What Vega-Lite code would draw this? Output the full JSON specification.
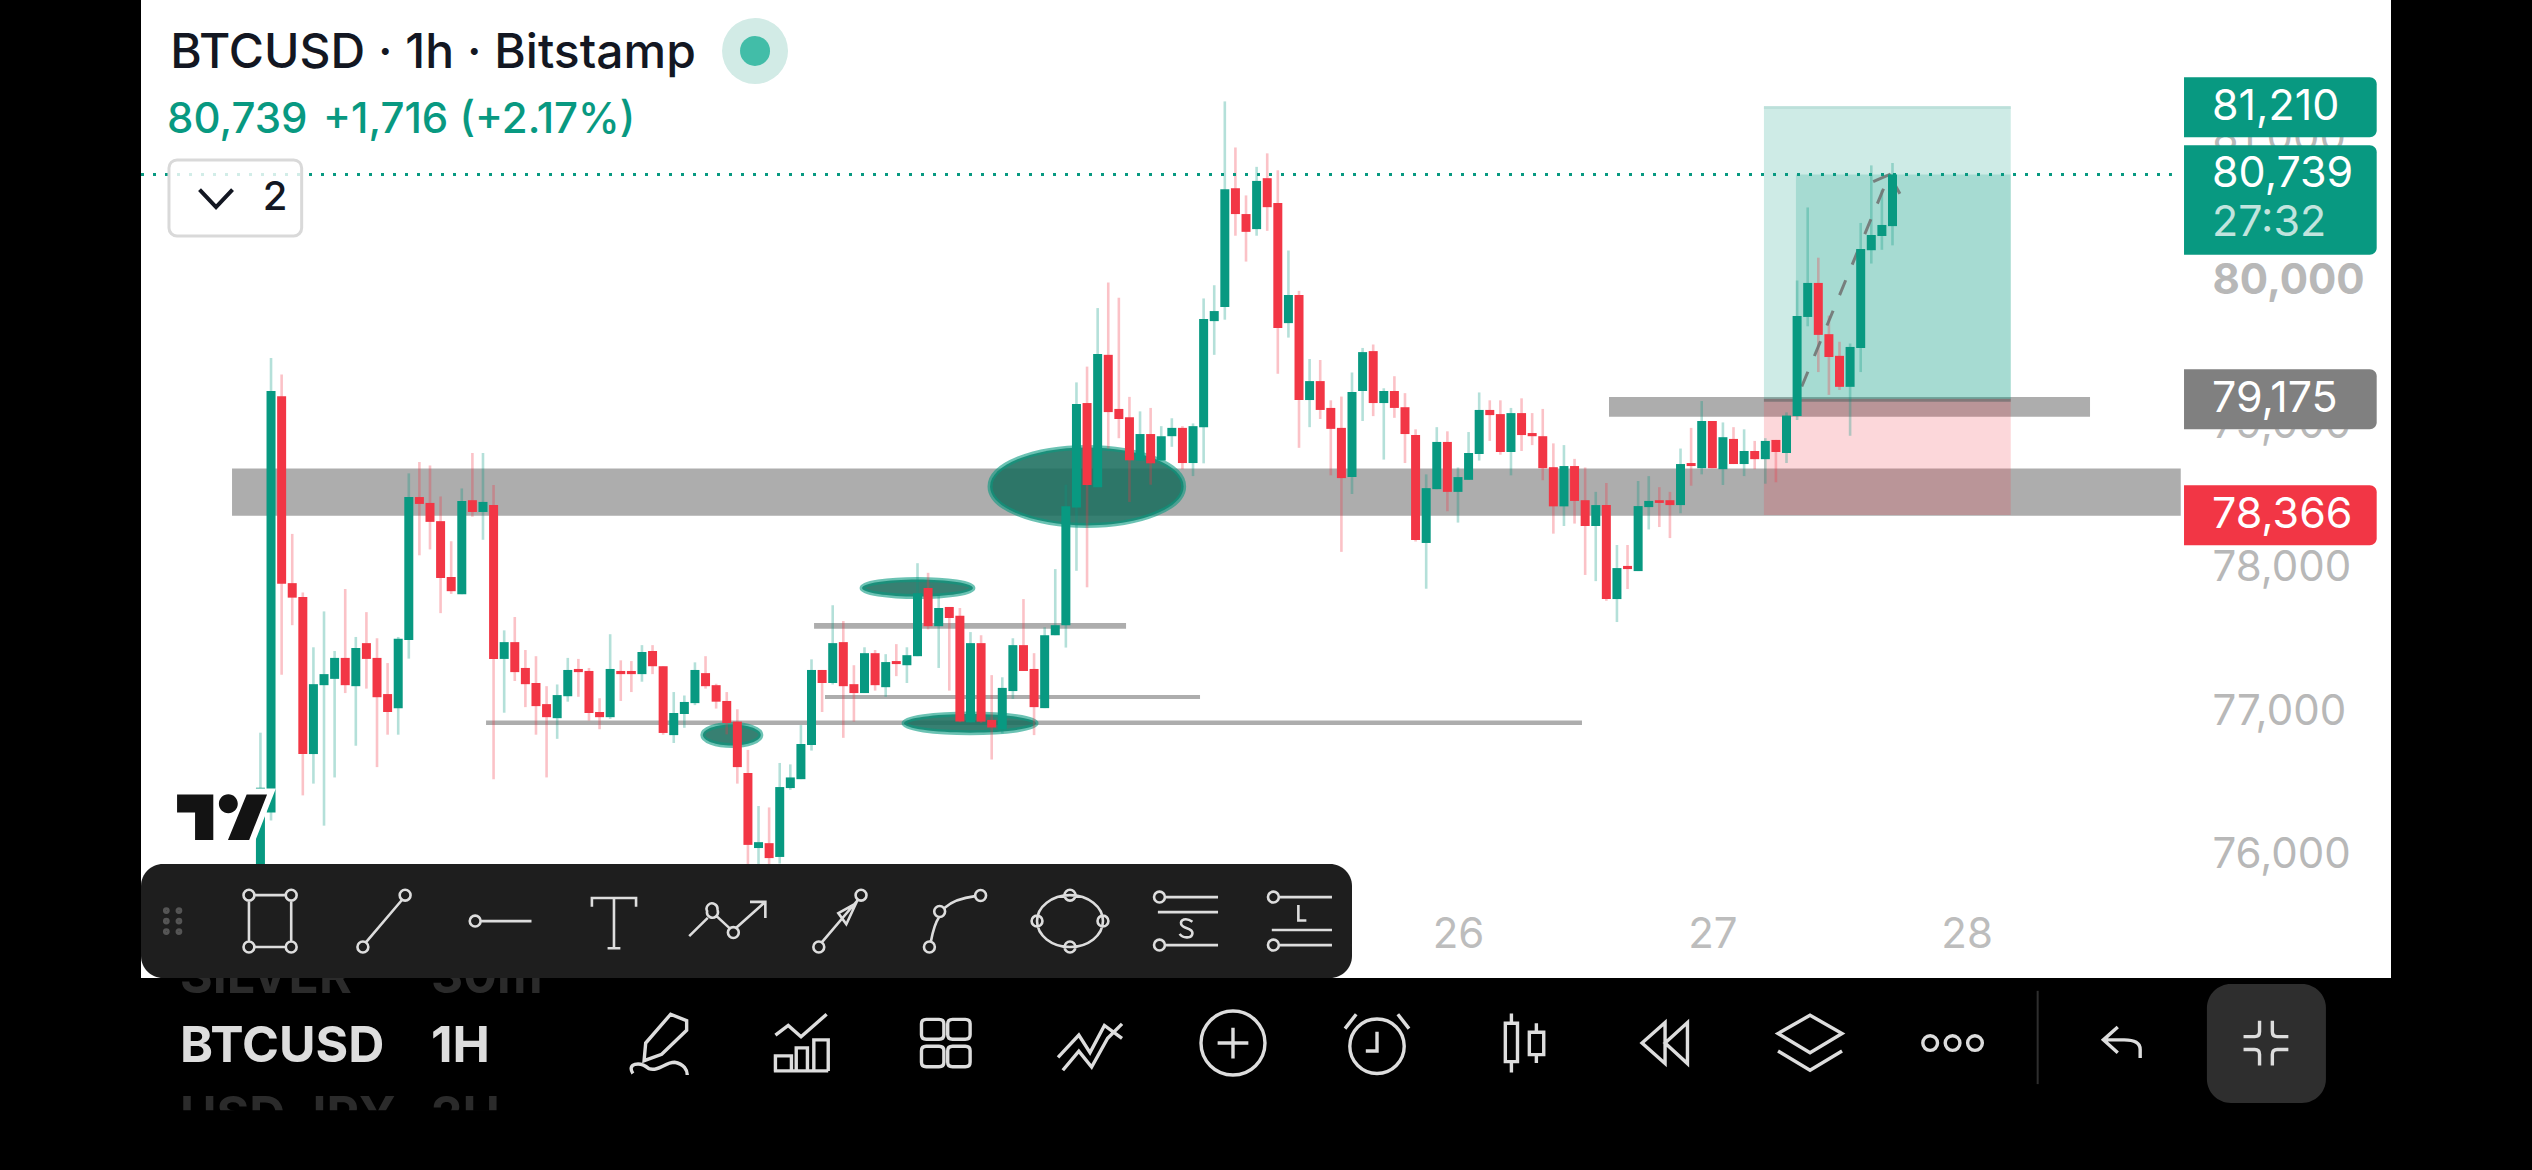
{"$schema":"https://vega.github.io/schema/vega-lite/v6.json","width":2250,"height":978,"autosize":{"type":"none"},"padding":{"left":141,"right":141,"top":0,"bottom":192},"background":"#000000","view":{"fill":"#ffffff","stroke":null},
"config":{"font":"Inter"},
"datasets":{
"candles":[
{"i":0,"o":75505,"h":76849,"l":75400,"c":76465},{"i":1,"o":76292,"h":79460,"l":76237,"c":79230},{"i":2,"o":79194,"h":79345,"l":77252,"c":77886},{"i":3,"o":77891,"h":78234,"l":77598,"c":77790},{"i":4,"o":77795,"h":77826,"l":76412,"c":76700},{"i":5,"o":76700,"h":77444,"l":76494,"c":77187},{"i":6,"o":77180,"h":77694,"l":76201,"c":77257},{"i":7,"o":77224,"h":77418,"l":76537,"c":77370},{"i":8,"o":77370,"h":77850,"l":77125,"c":77180},{"i":9,"o":77173,"h":77516,"l":76758,"c":77439},
{"i":10,"o":77473,"h":77689,"l":77156,"c":77363},{"i":11,"o":77370,"h":77507,"l":76609,"c":77096},{"i":12,"o":77118,"h":77334,"l":76835,"c":76993},{"i":13,"o":77020,"h":77516,"l":76835,"c":77504},{"i":14,"o":77495,"h":78656,"l":77365,"c":78491},{"i":15,"o":78491,"h":78735,"l":78085,"c":78443},{"i":16,"o":78450,"h":78711,"l":78126,"c":78318},{"i":17,"o":78323,"h":78495,"l":77682,"c":77927},{"i":18,"o":77934,"h":78183,"l":77816,"c":77835},{"i":19,"o":77814,"h":78551,"l":77814,"c":78464},
{"i":20,"o":78469,"h":78798,"l":78354,"c":78387},{"i":21,"o":78387,"h":78798,"l":78193,"c":78457},{"i":22,"o":78435,"h":78575,"l":76525,"c":77363},{"i":23,"o":77363,"h":77562,"l":76988,"c":77480},{"i":24,"o":77480,"h":77655,"l":77209,"c":77271},{"i":25,"o":77300,"h":77425,"l":77027,"c":77187},{"i":26,"o":77195,"h":77382,"l":76835,"c":77034},{"i":27,"o":77048,"h":77173,"l":76537,"c":76957},{"i":28,"o":76950,"h":77185,"l":76806,"c":77111},{"i":29,"o":77103,"h":77370,"l":77065,"c":77286},
{"i":30,"o":77293,"h":77363,"l":77099,"c":77271},{"i":31,"o":77279,"h":77300,"l":76933,"c":76986},{"i":32,"o":76993,"h":77089,"l":76873,"c":76957},{"i":33,"o":76957,"h":77535,"l":76945,"c":77293},{"i":34,"o":77279,"h":77353,"l":77070,"c":77257},{"i":35,"o":77279,"h":77348,"l":77132,"c":77257},{"i":36,"o":77257,"h":77459,"l":77204,"c":77411},{"i":37,"o":77418,"h":77459,"l":77257,"c":77312},{"i":38,"o":77312,"h":77312,"l":76835,"c":76847},{"i":39,"o":76832,"h":77132,"l":76777,"c":76986},
{"i":40,"o":76979,"h":77108,"l":76883,"c":77063},{"i":41,"o":77055,"h":77339,"l":77041,"c":77286},{"i":42,"o":77264,"h":77382,"l":77156,"c":77173},{"i":43,"o":77180,"h":77190,"l":77017,"c":77065},{"i":44,"o":77070,"h":77132,"l":76837,"c":76916},{"i":45,"o":76926,"h":77012,"l":76494,"c":76609},{"i":46,"o":76568,"h":76729,"l":75745,"c":76067},{"i":47,"o":76045,"h":76338,"l":75841,"c":76086},{"i":48,"o":76079,"h":76328,"l":75841,"c":75975},{"i":49,"o":75983,"h":76638,"l":75937,"c":76470},
{"i":50,"o":76463,"h":76628,"l":76451,"c":76537},{"i":51,"o":76525,"h":76902,"l":76525,"c":76770},{"i":52,"o":76763,"h":77360,"l":76724,"c":77286},{"i":53,"o":77286,"h":77286,"l":76993,"c":77195},{"i":54,"o":77195,"h":77737,"l":77185,"c":77473},{"i":55,"o":77480,"h":77627,"l":76813,"c":77173},{"i":56,"o":77187,"h":77319,"l":76926,"c":77125},{"i":57,"o":77125,"h":77444,"l":77125,"c":77403},{"i":58,"o":77403,"h":77425,"l":77142,"c":77180},{"i":59,"o":77166,"h":77396,"l":77099,"c":77341},
{"i":60,"o":77348,"h":77466,"l":77243,"c":77327},{"i":61,"o":77319,"h":77444,"l":77195,"c":77389},{"i":62,"o":77382,"h":78030,"l":77382,"c":77821},{"i":63,"o":77857,"h":77963,"l":77569,"c":77591},{"i":64,"o":77591,"h":77809,"l":77300,"c":77718},{"i":65,"o":77725,"h":77725,"l":77142,"c":77648},{"i":66,"o":77663,"h":77718,"l":76921,"c":76926},{"i":67,"o":76921,"h":77550,"l":76916,"c":77473},{"i":68,"o":77473,"h":77528,"l":76916,"c":76926},{"i":69,"o":76938,"h":77250,"l":76662,"c":76885},
{"i":70,"o":76873,"h":77235,"l":76844,"c":77161},{"i":71,"o":77139,"h":77507,"l":77084,"c":77459},{"i":72,"o":77459,"h":77780,"l":77279,"c":77279},{"i":73,"o":77293,"h":77403,"l":76832,"c":77027},{"i":74,"o":77020,"h":77583,"l":77020,"c":77528},{"i":75,"o":77528,"h":77989,"l":77528,"c":77598},{"i":76,"o":77598,"h":78577,"l":77442,"c":78426},{"i":77,"o":78419,"h":79290,"l":77977,"c":79139},{"i":78,"o":79146,"h":79400,"l":77862,"c":78575},{"i":79,"o":78560,"h":79808,"l":78560,"c":79487},
{"i":80,"o":79482,"h":79986,"l":78829,"c":79083},{"i":81,"o":79105,"h":79880,"l":78901,"c":79035},{"i":82,"o":79047,"h":79189,"l":78457,"c":78747},{"i":83,"o":78745,"h":79088,"l":78745,"c":78930},{"i":84,"o":78930,"h":79112,"l":78577,"c":78726},{"i":85,"o":78745,"h":78985,"l":78745,"c":78915},{"i":86,"o":78915,"h":79040,"l":78841,"c":78973},{"i":87,"o":78973,"h":78985,"l":78685,"c":78728},{"i":88,"o":78728,"h":79004,"l":78637,"c":78985},{"i":89,"o":78978,"h":79875,"l":78726,"c":79731},
{"i":90,"o":79717,"h":79967,"l":79482,"c":79787},{"i":91,"o":79815,"h":81248,"l":79727,"c":80636},{"i":92,"o":80643,"h":80927,"l":80312,"c":80463},{"i":93,"o":80463,"h":80593,"l":80132,"c":80339},{"i":94,"o":80358,"h":80792,"l":80312,"c":80694},{"i":95,"o":80713,"h":80886,"l":80346,"c":80511},{"i":96,"o":80540,"h":80768,"l":79350,"c":79669},{"i":97,"o":79703,"h":80209,"l":79602,"c":79899},{"i":98,"o":79899,"h":79928,"l":78834,"c":79167},{"i":99,"o":79167,"h":79453,"l":78978,"c":79299},
{"i":100,"o":79299,"h":79446,"l":79035,"c":79098},{"i":101,"o":79112,"h":79165,"l":78642,"c":78966},{"i":102,"o":78973,"h":79191,"l":78109,"c":78623},{"i":103,"o":78630,"h":79359,"l":78512,"c":79223},{"i":104,"o":79230,"h":79530,"l":79021,"c":79501},{"i":105,"o":79508,"h":79554,"l":79055,"c":79146},{"i":106,"o":79146,"h":79249,"l":78752,"c":79230},{"i":107,"o":79230,"h":79333,"l":79043,"c":79112},{"i":108,"o":79117,"h":79215,"l":78728,"c":78930},{"i":109,"o":78923,"h":78963,"l":78181,"c":78191},
{"i":110,"o":78171,"h":78649,"l":77852,"c":78553},{"i":111,"o":78546,"h":78978,"l":78546,"c":78875},{"i":112,"o":78875,"h":78949,"l":78392,"c":78527},{"i":113,"o":78527,"h":78697,"l":78313,"c":78630},{"i":114,"o":78611,"h":78944,"l":78611,"c":78798},{"i":115,"o":78791,"h":79220,"l":78745,"c":79098},{"i":116,"o":79098,"h":79165,"l":78882,"c":79062},{"i":117,"o":79069,"h":79165,"l":78786,"c":78805},{"i":118,"o":78805,"h":79112,"l":78642,"c":79076},{"i":119,"o":79076,"h":79179,"l":78812,"c":78923},
{"i":120,"o":78937,"h":79076,"l":78853,"c":78915},{"i":121,"o":78915,"h":79105,"l":78608,"c":78692},{"i":122,"o":78699,"h":78865,"l":78236,"c":78426},{"i":123,"o":78426,"h":78853,"l":78289,"c":78707},{"i":124,"o":78707,"h":78757,"l":78306,"c":78464},{"i":125,"o":78469,"h":78697,"l":77948,"c":78289},{"i":126,"o":78289,"h":78527,"l":77905,"c":78435},{"i":127,"o":78435,"h":78589,"l":77768,"c":77780},{"i":128,"o":77780,"h":78157,"l":77620,"c":77996},{"i":129,"o":78011,"h":78157,"l":77850,"c":77989},
{"i":130,"o":77975,"h":78603,"l":77975,"c":78428},{"i":131,"o":78421,"h":78637,"l":78265,"c":78464},{"i":132,"o":78469,"h":78560,"l":78282,"c":78450},{"i":133,"o":78469,"h":78527,"l":78205,"c":78435},{"i":134,"o":78435,"h":78829,"l":78378,"c":78721},{"i":135,"o":78728,"h":78973,"l":78570,"c":78707},{"i":136,"o":78692,"h":79160,"l":78649,"c":79021},{"i":137,"o":79021,"h":79021,"l":78692,"c":78692},{"i":138,"o":78685,"h":79011,"l":78575,"c":78908},{"i":139,"o":78896,"h":78978,"l":78721,"c":78721},
{"i":140,"o":78721,"h":78963,"l":78637,"c":78812},{"i":141,"o":78812,"h":78882,"l":78685,"c":78755},{"i":142,"o":78755,"h":78901,"l":78584,"c":78882},{"i":143,"o":78889,"h":78889,"l":78594,"c":78805},{"i":144,"o":78798,"h":79081,"l":78728,"c":79059},{"i":145,"o":79055,"h":80000,"l":79028,"c":79753},{"i":146,"o":79746,"h":80509,"l":79681,"c":79983},{"i":147,"o":79983,"h":80159,"l":79362,"c":79621},{"i":148,"o":79626,"h":79755,"l":79203,"c":79467},{"i":149,"o":79475,"h":79573,"l":79237,"c":79259},
{"i":150,"o":79259,"h":79561,"l":78918,"c":79537},{"i":151,"o":79530,"h":80401,"l":79362,"c":80219},{"i":152,"o":80211,"h":80802,"l":80118,"c":80317},{"i":153,"o":80310,"h":80629,"l":80214,"c":80387},{"i":154,"o":80379,"h":80819,"l":80245,"c":80739}],
"bands":[{"a":-2.68,"b":181.2,"t":78690,"u":78360},{"a":127.25,"b":172.64,"t":79188,"u":79050},{"a":21.29,"b":124.7,"t":76934,"u":76903},{"a":53.27,"b":88.66,"t":77111,"u":77083},{"a":52.24,"b":81.68,"t":77613,"u":77574}],
"trade":[{"k":"target","a":141.87,"b":165.16,"t":81210,"u":79175},{"k":"target","a":144.89,"b":165.16,"t":80739,"u":79175},{"k":"stop","a":141.87,"b":165.16,"t":79175,"u":78366}],
"levels":[{"k":"entry","a":141.87,"b":165.16,"p":79165},{"k":"top","a":141.87,"b":165.16,"p":81205}],
"path":[{"i":145.44,"p":79261},{"i":153.7,"p":80737}],
"barb":[{"i":152.18,"p":80689},{"i":153.7,"p":80737},{"i":154.7,"p":80605}],
"last":[{"a":-11.27,"b":180.37,"p":80739}],
"tags":[{"k":"tp","a":181.51,"b":199.69,"t":81416,"u":80998},{"k":"tp","a":181.51,"b":199.69,"t":80942,"u":80180},{"k":"en","a":181.51,"b":199.69,"t":79381,"u":78963},{"k":"sl","a":181.51,"b":199.69,"t":78573,"u":78155}],
"tagtext":[{"s":"81,210","i":184.15,"p":81210,"k":"w"},{"s":"80,739","i":184.15,"p":80739,"k":"w"},{"s":"27:32","i":184.15,"p":80400,"k":"m"},{"s":"79,175","i":184.15,"p":79175,"k":"w"},{"s":"78,366","i":184.15,"p":78366,"k":"w"}]
},
"layer":[
{"data":{"name":"bands"},"mark":{"type":"rect","fill":"#adadad"},"encoding":{"x":{"field":"a","type":"quantitative","scale":{"domain":[-11.27,201.04],"nice":false,"zero":false,"padding":0},"axis":{"orient":"bottom","offset":-22,"values":[113,137,161],"labelExpr":"datum.value==113?'26':datum.value==137?'27':'28'","grid":false,"ticks":false,"domain":false,"title":null,"labelFont":"Inter","labelFontSize":42,"labelColor":"#bdbdbd","labelPadding":0,"labelBaseline":"bottom"}},"x2":{"field":"b"},"y":{"field":"t","type":"quantitative","scale":{"domain":[75139.4,81954.7],"nice":false,"zero":false,"padding":0},"axis":{"orient":"right","offset":-179,"values":[76000,77000,78000,79000,80000,81000],"format":",d","grid":false,"ticks":false,"domain":false,"title":null,"labelFont":"Inter","labelFontSize":42,"labelColor":"#b8b8b8","labelPadding":0,"labelAlign":"left","labelOffset":0,"labelFontWeight":{"condition":{"test":"datum.value==80000","value":"bold"},"value":"normal"}}},"y2":{"field":"u"}}},
{"data":{"name":"trade"},"mark":{"type":"rect","opacity":0.2},"encoding":{"x":{"field":"a","type":"quantitative"},"x2":{"field":"b"},"y":{"field":"t","type":"quantitative"},"y2":{"field":"u"},"color":{"field":"k","type":"nominal","scale":{"domain":["target","stop"],"range":["#089981","#F23645"]},"legend":null}}},
{"data":{"name":"levels"},"mark":{"type":"rule","strokeWidth":3,"opacity":0.75},"encoding":{"x":{"field":"a","type":"quantitative"},"x2":{"field":"b"},"y":{"field":"p","type":"quantitative"},"color":{"field":"k","type":"nominal","scale":{"domain":["entry","top"],"range":["#6f6f6f","#b6dcd5"]},"legend":null}}},
{"data":{"values":[{"i":77.98,"p":78565}]},"mark":{"type":"point","shape":"M-1,0A1,0.403 0 1,1 1,0A1,0.403 0 1,1 -1,0Z","size":37481,"filled":true,"fill":"#1b6e5e","fillOpacity":0.88,"stroke":"#089981","strokeOpacity":0.6,"strokeWidth":5},"encoding":{"x":{"field":"i","type":"quantitative"},"y":{"field":"p","type":"quantitative"}}},
{"data":{"values":[{"i":62.0,"p":77857}]},"mark":{"type":"point","shape":"M-1,0A1,0.155 0 1,1 1,0A1,0.155 0 1,1 -1,0Z","size":12277,"filled":true,"fill":"#1b6e5e","fillOpacity":0.88,"stroke":"#089981","strokeOpacity":0.6,"strokeWidth":5},"encoding":{"x":{"field":"i","type":"quantitative"},"y":{"field":"p","type":"quantitative"}}},
{"data":{"values":[{"i":66.96,"p":76914}]},"mark":{"type":"point","shape":"M-1,0A1,0.141 0 1,1 1,0A1,0.141 0 1,1 -1,0Z","size":17424,"filled":true,"fill":"#1b6e5e","fillOpacity":0.88,"stroke":"#089981","strokeOpacity":0.6,"strokeWidth":5},"encoding":{"x":{"field":"i","type":"quantitative"},"y":{"field":"p","type":"quantitative"}}},
{"data":{"values":[{"i":44.48,"p":76833}]},"mark":{"type":"point","shape":"M-1,0A1,0.362 0 1,1 1,0A1,0.362 0 1,1 -1,0Z","size":3364,"filled":true,"fill":"#1b6e5e","fillOpacity":0.88,"stroke":"#089981","strokeOpacity":0.6,"strokeWidth":5},"encoding":{"x":{"field":"i","type":"quantitative"},"y":{"field":"p","type":"quantitative"}}},
{"data":{"name":"candles"},"mark":{"type":"rule","strokeWidth":2.6,"opacity":0.3},"encoding":{"x":{"field":"i","type":"quantitative"},"y":{"field":"l","type":"quantitative"},"y2":{"field":"h"},"color":{"condition":{"test":"datum.c>=datum.o","value":"#089981"},"value":"#F23645"}}},
{"data":{"name":"path"},"mark":{"type":"line","stroke":"#6f6f6f","strokeWidth":3,"strokeDash":[16,17],"opacity":0.85},"encoding":{"x":{"field":"i","type":"quantitative"},"y":{"field":"p","type":"quantitative"}}},
{"data":{"name":"barb"},"mark":{"type":"line","stroke":"#6f6f6f","strokeWidth":3,"opacity":0.85},"encoding":{"x":{"field":"i","type":"quantitative","sort":null},"y":{"field":"p","type":"quantitative"}}},
{"data":{"name":"last"},"mark":{"type":"rule","stroke":"#089981","strokeWidth":3,"strokeDash":[3,9]},"encoding":{"x":{"field":"a","type":"quantitative"},"x2":{"field":"b"},"y":{"field":"p","type":"quantitative"}}},
{"data":{"name":"candles"},"mark":{"type":"bar","width":9},"encoding":{"x":{"field":"i","type":"quantitative"},"y":{"field":"o","type":"quantitative"},"y2":{"field":"c"},"color":{"condition":{"test":"datum.c>=datum.o","value":"#089981"},"value":"#F23645"}}},
{"data":{"name":"tags"},"mark":{"type":"rect","cornerRadiusTopRight":7,"cornerRadiusBottomRight":7},"encoding":{"x":{"field":"a","type":"quantitative"},"x2":{"field":"b"},"y":{"field":"t","type":"quantitative"},"y2":{"field":"u"},"color":{"field":"k","type":"nominal","scale":{"domain":["tp","en","sl"],"range":["#089981","#808080","#F23645"]},"legend":null}}},
{"data":{"name":"tagtext"},"mark":{"type":"text","align":"left","baseline":"middle","font":"Inter","fontSize":43,"dy":0},"encoding":{"x":{"field":"i","type":"quantitative"},"y":{"field":"p","type":"quantitative"},"text":{"field":"s"},"color":{"field":"k","type":"nominal","scale":{"domain":["w","m"],"range":["#ffffff","#c1e4de"]},"legend":null}}},
{"data":{"values":[{"i":-3.62,"p":76260}]},"mark":{"type":"point","shape":"M-1,-0.505L-0.195,-0.505L-0.195,0.505L-0.6,0.505L-0.6,-0.107L-1,-0.107ZM0.349,-0.298A0.21,0.21 0 1,1 -0.071,-0.298A0.21,0.21 0 1,1 0.349,-0.298ZM1,-0.505L0.546,-0.505L0.131,0.505L0.602,0.505Z","size":8100,"filled":false,"stroke":"#ffffff","strokeWidth":12,"opacity":1},"encoding":{"x":{"field":"i","type":"quantitative"},"y":{"field":"p","type":"quantitative"}}},
{"data":{"values":[{"i":-3.62,"p":76260}]},"mark":{"type":"point","shape":"M-1,-0.505L-0.195,-0.505L-0.195,0.505L-0.6,0.505L-0.6,-0.107L-1,-0.107ZM0.349,-0.298A0.21,0.21 0 1,1 -0.071,-0.298A0.21,0.21 0 1,1 0.349,-0.298ZM1,-0.505L0.546,-0.505L0.131,0.505L0.602,0.505Z","size":8100,"filled":true,"fill":"#131313","strokeWidth":0,"opacity":1},"encoding":{"x":{"field":"i","type":"quantitative"},"y":{"field":"p","type":"quantitative"}}},
{"data":{"values":[{"s":"BTCUSD · 1h · Bitstamp","i":-8.52,"p":81481}]},"mark":{"type":"text","align":"left","baseline":"alphabetic","font":"Inter","fontSize":48,"fontWeight":500,"color":"#131722"},"encoding":{"x":{"field":"i","type":"quantitative"},"y":{"field":"p","type":"quantitative"},"text":{"field":"s"}}},
{"data":{"values":[{"s":"80,739","i":-8.81,"p":81028},{"s":"+1,716 (+2.17%)","i":5.9,"p":81028}]},"mark":{"type":"text","align":"left","baseline":"alphabetic","font":"Inter","fontSize":42,"fontWeight":500,"color":"#089981"},"encoding":{"x":{"field":"i","type":"quantitative"},"y":{"field":"p","type":"quantitative"},"text":{"field":"s"}}},
{"data":{"values":[{"i":46.67,"p":81600}]},"mark":{"type":"point","shape":"circle","filled":true,"size":4356,"fill":"#d2ebe6","opacity":1},"encoding":{"x":{"field":"i","type":"quantitative"},"y":{"field":"p","type":"quantitative"}}},
{"data":{"values":[{"i":46.67,"p":81600}]},"mark":{"type":"point","shape":"circle","filled":true,"size":900,"fill":"#42bda8","opacity":1},"encoding":{"x":{"field":"i","type":"quantitative"},"y":{"field":"p","type":"quantitative"}}},
{"data":{"values":[{"a":-8.63,"b":3.89,"t":80840,"u":80310}]},"mark":{"type":"rect","fill":"#ffffff","fillOpacity":0.82,"stroke":"#d9d9d9","strokeWidth":3,"cornerRadius":8},"encoding":{"x":{"field":"a","type":"quantitative"},"x2":{"field":"b"},"y":{"field":"t","type":"quantitative"},"y2":{"field":"u"}}},
{"data":{"values":[{"i":-4.19,"p":80575}]},"mark":{"type":"point","shape":"M-1,-0.5L0,0.55L1,-0.5","size":1089,"filled":false,"stroke":"#131722","strokeWidth":4,"opacity":1},"encoding":{"x":{"field":"i","type":"quantitative"},"y":{"field":"p","type":"quantitative"}}},
{"data":{"values":[{"s":"2","i":1.38,"p":80575}]},"mark":{"type":"text","align":"center","baseline":"middle","font":"Inter","fontSize":40,"fontWeight":500,"color":"#131722"},"encoding":{"x":{"field":"i","type":"quantitative"},"y":{"field":"p","type":"quantitative"},"text":{"field":"s"}}},
{"data":{"values":[{"s":"SILVER","i":-7.59,"p":75035},{"s":"30m","i":16.1,"p":75035},{"s":"USD JPY","i":-7.59,"p":74066},{"s":"2H","i":16.1,"p":74066}]},"mark":{"type":"text","align":"left","baseline":"alphabetic","font":"Inter","fontSize":50,"fontWeight":700,"color":"#2b2b2b"},"encoding":{"x":{"field":"i","type":"quantitative"},"y":{"field":"p","type":"quantitative"},"text":{"field":"s"}}},
{"data":{"values":[{"a":-11.2,"b":201,"t":74218,"u":73800}]},"mark":{"type":"rect","fill":"#000000"},"encoding":{"x":{"field":"a","type":"quantitative"},"x2":{"field":"b"},"y":{"field":"t","type":"quantitative"},"y2":{"field":"u"}}},
{"data":{"values":[{"a":-11.27,"b":103.0,"t":75934,"u":75139}]},"mark":{"type":"rect","fill":"#1e1e1e","cornerRadius":22},"encoding":{"x":{"field":"a","type":"quantitative"},"x2":{"field":"b"},"y":{"field":"t","type":"quantitative"},"y2":{"field":"u"}}},
{"data":{"values":[{"a":183.67,"b":194.9,"t":75098,"u":74268}]},"mark":{"type":"rect","fill":"#2e2e2e","cornerRadius":24},"encoding":{"x":{"field":"a","type":"quantitative"},"x2":{"field":"b"},"y":{"field":"t","type":"quantitative"},"y2":{"field":"u"}}},
{"data":{"values":[{"s":"BTCUSD","i":-7.59,"p":74557},{"s":"1H","i":16.1,"p":74557}]},"mark":{"type":"text","align":"left","baseline":"alphabetic","font":"Inter","fontSize":50,"fontWeight":700,"color":"#dddddd"},"encoding":{"x":{"field":"i","type":"quantitative"},"y":{"field":"p","type":"quantitative"},"text":{"field":"s"}}},
{"data":{"values":[{"i":-7.87,"p":75536}]},"mark":{"type":"point","shape":"M-0.6,-0.5A0.09,0.09 0 1,0 -0.42,-0.5A0.09,0.09 0 1,0 -0.6,-0.5M0.0,-0.5A0.09,0.09 0 1,0 0.18,-0.5A0.09,0.09 0 1,0 0,-0.5M-0.6,0A0.09,0.09 0 1,0 -0.42,0A0.09,0.09 0 1,0 -0.6,0M0,0A0.09,0.09 0 1,0 0.18,0A0.09,0.09 0 1,0 0,0M-0.6,0.5A0.09,0.09 0 1,0 -0.42,0.5A0.09,0.09 0 1,0 -0.6,0.5M0,0.5A0.09,0.09 0 1,0 0.18,0.5A0.09,0.09 0 1,0 0,0.5","size":1764,"filled":false,"stroke":"#555555","strokeWidth":3,"opacity":1},"encoding":{"x":{"field":"i","type":"quantitative"},"y":{"field":"p","type":"quantitative"}}},
{"data":{"values":[{"s":"rect","i":0.91,"p":75536},{"s":"line","i":11.66,"p":75536},{"s":"hline","i":22.89,"p":75536},{"s":"text","i":33.36,"p":75536},{"s":"poly","i":44.02,"p":75536},{"s":"arrow","i":54.68,"p":75536},{"s":"curve","i":65.54,"p":75536},{"s":"ell","i":76.39,"p":75536},{"s":"short","i":87.34,"p":75536},{"s":"long","i":98.09,"p":75536}]},"mark":{"type":"point","filled":false,"stroke":"#dddddd","strokeWidth":2.6,"size":4096,"opacity":1},"encoding":{"x":{"field":"i","type":"quantitative"},"y":{"field":"p","type":"quantitative"},"shape":{"field":"s","type":"nominal","legend":null,"scale":{"domain":["rect","line","hline","text","poly","arrow","curve","ell","short","long"],"range":[
"M-0.83,-0.81A0.17,0.17 0 1,0 -0.49,-0.81A0.17,0.17 0 1,0 -0.83,-0.81M0.49,-0.81A0.17,0.17 0 1,0 0.83,-0.81A0.17,0.17 0 1,0 0.49,-0.81M-0.83,0.81A0.17,0.17 0 1,0 -0.49,0.81A0.17,0.17 0 1,0 -0.83,0.81M0.49,0.81A0.17,0.17 0 1,0 0.83,0.81A0.17,0.17 0 1,0 0.49,0.81M-0.49,-0.81L0.49,-0.81M-0.49,0.81L0.49,0.81M-0.66,-0.64L-0.66,0.64M0.66,-0.64L0.66,0.64",
"M-0.83,0.81A0.17,0.17 0 1,0 -0.49,0.81A0.17,0.17 0 1,0 -0.83,0.81M0.49,-0.81A0.17,0.17 0 1,0 0.83,-0.81A0.17,0.17 0 1,0 0.49,-0.81M-0.56,0.66L0.56,-0.66",
"M-1.04,0A0.17,0.17 0 1,0 -0.7,0A0.17,0.17 0 1,0 -1.04,0M-0.7,0L0.89,0",
"M-0.69,-0.45L-0.69,-0.72L0.69,-0.72L0.69,-0.45M0,-0.72L0,0.85M-0.2,0.85L0.2,0.85",
"M-1.18,0.47L-0.6,-0.1M-0.3,-0.35A0.17,0.17 0 1,0 -0.62,-0.31A0.17,0.17 0 1,0 -0.3,-0.35M-0.35,-0.18L0.08,0.22M0.37,0.36A0.17,0.17 0 1,0 0.03,0.36A0.17,0.17 0 1,0 0.37,0.36M0.3,0.2L1.2,-0.6M0.72,-0.6L1.2,-0.6L1.2,-0.1",
"M-0.83,0.81A0.17,0.17 0 1,0 -0.49,0.81A0.17,0.17 0 1,0 -0.83,0.81M0.49,-0.81A0.17,0.17 0 1,0 0.83,-0.81A0.17,0.17 0 1,0 0.49,-0.81M-0.56,0.66L0.56,-0.66M0.5,-0.55L-0.05,-0.25L0.2,0.1Z",
"M-0.97,0.81A0.17,0.17 0 1,0 -0.63,0.81A0.17,0.17 0 1,0 -0.97,0.81M-0.65,-0.3A0.17,0.17 0 1,0 -0.31,-0.3A0.17,0.17 0 1,0 -0.65,-0.3M0.63,-0.8A0.17,0.17 0 1,0 0.97,-0.8A0.17,0.17 0 1,0 0.63,-0.8M-0.75,0.62Q-0.65,0.1 -0.5,-0.12M-0.32,-0.42Q0,-0.7 0.63,-0.78",
"M-1.03,0A1.03,0.81 0 1,1 1.03,0A1.03,0.81 0 1,1 -1.03,0M-1.2,0A0.17,0.17 0 1,0 -0.86,0A0.17,0.17 0 1,0 -1.2,0M0.86,0A0.17,0.17 0 1,0 1.2,0A0.17,0.17 0 1,0 0.86,0M-0.17,-0.81A0.17,0.17 0 1,0 0.17,-0.81A0.17,0.17 0 1,0 -0.17,-0.81M-0.17,0.81A0.17,0.17 0 1,0 0.17,0.81A0.17,0.17 0 1,0 -0.17,0.81",
"M-1,-0.75A0.17,0.17 0 1,0 -0.66,-0.75A0.17,0.17 0 1,0 -1,-0.75M-0.66,-0.75L1,-0.75M-0.88,-0.28L1,-0.28M-1,0.75A0.17,0.17 0 1,0 -0.66,0.75A0.17,0.17 0 1,0 -1,0.75M-0.66,0.75L1,0.75M0.2,0.02C0,-0.12 -0.2,-0.05 -0.15,0.1C-0.1,0.25 0.2,0.2 0.2,0.37C0.2,0.55 -0.1,0.55 -0.2,0.4",
"M-1,-0.75A0.17,0.17 0 1,0 -0.66,-0.75A0.17,0.17 0 1,0 -1,-0.75M-0.66,-0.75L1,-0.75M-0.05,-0.5L-0.05,-0.02L0.2,-0.02M-0.88,0.28L1,0.28M-1,0.75A0.17,0.17 0 1,0 -0.66,0.75A0.17,0.17 0 1,0 -1,0.75M-0.66,0.75L1,0.75"
]}}}},
{"data":{"values":[{"s":"pen","i":37.56,"p":74686},{"s":"ind","i":51.01,"p":74686},{"s":"grid","i":64.64,"p":74686},{"s":"zig","i":78.28,"p":74686},{"s":"plus","i":91.77,"p":74686},{"s":"alarm","i":105.36,"p":74686},{"s":"cand","i":119.28,"p":74686},{"s":"rew","i":132.54,"p":74686},{"s":"lay","i":146.22,"p":74686},{"s":"dots","i":159.67,"p":74686},{"s":"undo","i":175.56,"p":74686},{"s":"comp","i":189.24,"p":74686}]},"mark":{"type":"point","filled":false,"stroke":"#dddddd","strokeWidth":3.4,"size":4096,"opacity":1},"encoding":{"x":{"field":"i","type":"quantitative"},"y":{"field":"p","type":"quantitative"},"shape":{"field":"s","type":"nominal","legend":null,"scale":{"domain":["pen","ind","grid","zig","plus","alarm","cand","rew","lay","dots","undo","comp"],"range":[
"M0.38,-0.9L0.88,-0.7L0.88,-0.4L0.1,0.35L-0.45,0.55L-0.4,0L0.38,-0.9ZM-0.8,0.95C-1,0.65 -0.6,0.55 -0.3,0.8C0,0.9 0.2,0.6 0.5,0.6C0.8,0.65 0.9,0.85 0.9,1",
"M-0.8,-0.25L-0.4,-0.55L0,-0.2L0.8,-0.9M-0.8,0.87L-0.8,0.4L-0.3,0.4L-0.3,0.87M-0.15,0.87L-0.15,0.15L0.2,0.15L0.2,0.87M0.4,0.87L0.4,-0.1L0.85,-0.1L0.85,0.87M-0.85,0.87L0.85,0.87",
"M-0.75,-0.6Q-0.75,-0.74 -0.6,-0.74L-0.2,-0.74Q-0.05,-0.74 -0.05,-0.6L-0.05,-0.26Q-0.05,-0.12 -0.2,-0.12L-0.6,-0.12Q-0.75,-0.12 -0.75,-0.26ZM0.07,-0.6Q0.07,-0.74 0.22,-0.74L0.62,-0.74Q0.77,-0.74 0.77,-0.6L0.77,-0.26Q0.77,-0.12 0.62,-0.12L0.22,-0.12Q0.07,-0.12 0.07,-0.26ZM-0.75,0.24Q-0.75,0.1 -0.6,0.1L-0.2,0.1Q-0.05,0.1 -0.05,0.24L-0.05,0.6Q-0.05,0.74 -0.2,0.74L-0.6,0.74Q-0.75,0.74 -0.75,0.6ZM0.07,0.24Q0.07,0.1 0.22,0.1L0.62,0.1Q0.77,0.1 0.77,0.24L0.77,0.6Q0.77,0.74 0.62,0.74L0.22,0.74Q0.07,0.74 0.07,0.6Z",
"M-1,0.45L-0.35,-0.25L0,0.3L0.45,-0.55L1,-0.15M-0.85,0.85L-0.35,0.25L0.05,0.75L0.55,-0.15L1,-0.6",
"M-1,0A1,1 0 1,1 1,0A1,1 0 1,1 -1,0M-0.48,0L0.48,0M0,-0.48L0,0.48",
"M-0.85,0.1A0.85,0.85 0 1,1 0.85,0.1A0.85,0.85 0 1,1 -0.85,0.1M0,-0.35L0,0.25L-0.35,0.25M-1,-0.45L-0.65,-0.9M1,-0.45L0.65,-0.9",
"M-0.6,-0.62L-0.22,-0.62L-0.22,0.58L-0.6,0.58ZM-0.41,-0.92L-0.41,-0.62M-0.41,0.58L-0.41,0.92M0.15,-0.34L0.6,-0.34L0.6,0.36L0.15,0.36ZM0.37,-0.62L0.37,-0.34M0.37,0.36L0.37,0.62",
"M-0.72,0L0,-0.64L0,0.64ZM0,0L0.7,-0.64L0.7,0.64Z",
"M0,-0.87L1,-0.3L0,0.3L-1,-0.3ZM-1,0.25L0,0.85L1,0.25",
"M-0.93,0A0.23,0.23 0 1,0 -0.47,0A0.23,0.23 0 1,0 -0.93,0M-0.23,0A0.23,0.23 0 1,0 0.23,0A0.23,0.23 0 1,0 -0.23,0M0.47,0A0.23,0.23 0 1,0 0.93,0A0.23,0.23 0 1,0 0.47,0",
"M0.6,0.47L0.6,0.2Q0.6,-0.1 0.1,-0.1L-0.55,-0.1M-0.1,-0.5L-0.55,-0.1L-0.1,0.3",
"M-0.7,-0.2L-0.35,-0.2Q-0.2,-0.2 -0.2,-0.35L-0.2,-0.7M0.7,-0.2L0.35,-0.2Q0.2,-0.2 0.2,-0.35L0.2,-0.7M-0.7,0.2L-0.35,0.2Q-0.2,0.2 -0.2,0.35L-0.2,0.7M0.7,0.2L0.35,0.2Q0.2,0.2 0.2,0.35L0.2,0.7"
]}}}},
{"data":{"values":[{"i":167.7,"t":75050,"u":74400}]},"mark":{"type":"rule","stroke":"#2e2e2e","strokeWidth":2},"encoding":{"x":{"field":"i","type":"quantitative"},"y":{"field":"t","type":"quantitative"},"y2":{"field":"u"}}}
],
"resolve":{"scale":{"shape":"independent","color":"independent"},"axis":{"x":"shared","y":"shared"}}}
